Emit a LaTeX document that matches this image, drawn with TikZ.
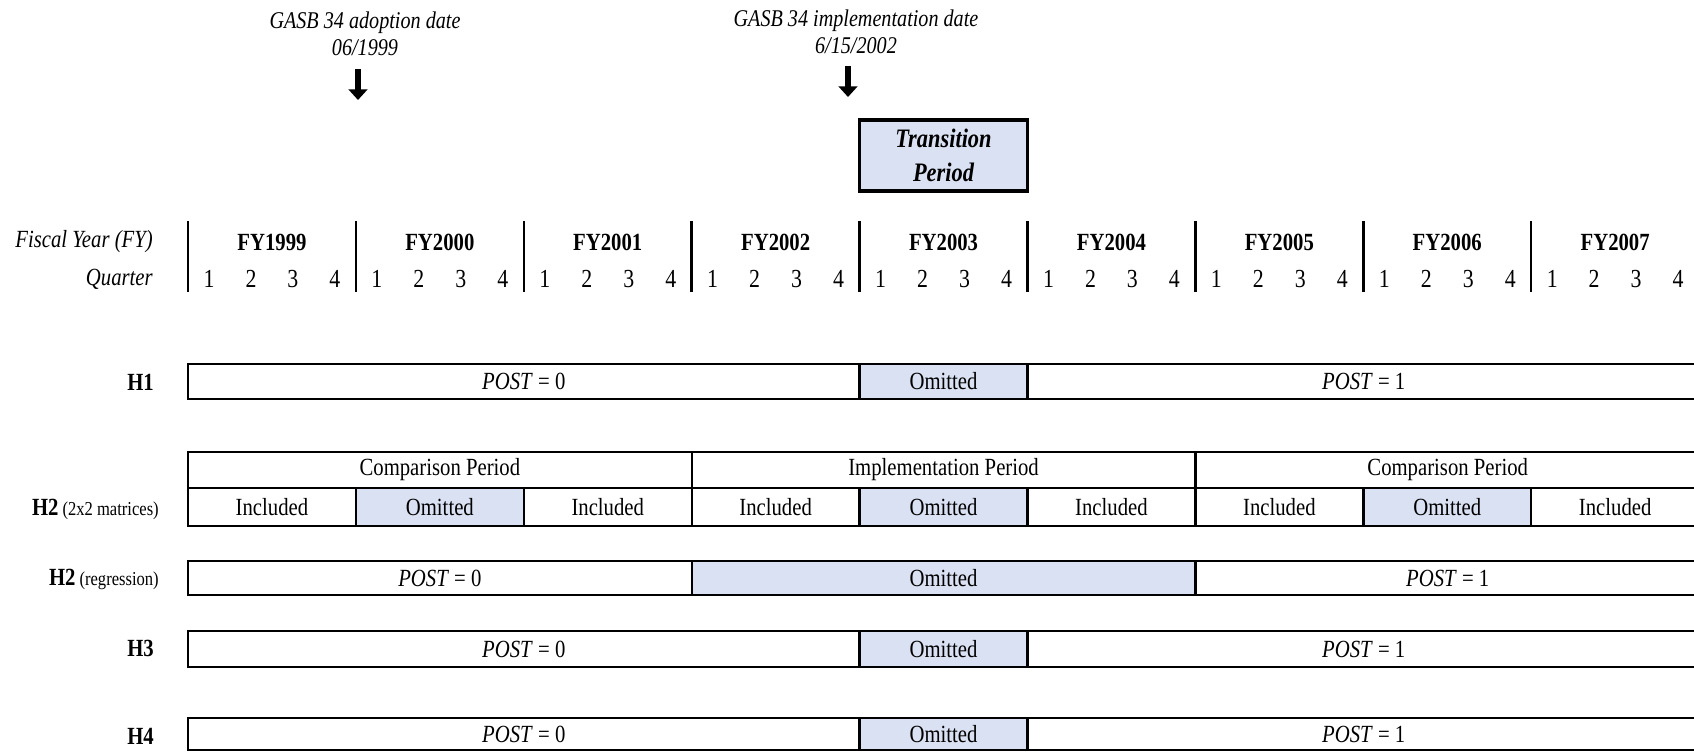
\documentclass[tikz,border=0pt]{standalone}
\usepackage{fontspec}
\setmainfont{Liberation Serif}[FakeStretch=0.84]
\usetikzlibrary{arrows.meta}
\definecolor{omit}{RGB}{217,225,242}
\newcommand\cellnode[7]{%
  \node[cellbox,#2,minimum width={(#4-#3)*0.75pt},minimum height={(#6-#5)*0.75pt}] (#1) at ({(#3+#4)/2},{(#5+#6)/2}) {#7};}
\newcommand\sublabfont{\fontsize{14.8pt}{16pt}\selectfont\mdseries}
\newcommand\mainfs{\fontsize{18.5pt}{21pt}\selectfont}
\tikzset{
  cellbox/.style={draw,line width=1.8pt,inner sep=0pt,rectangle,font=\mainfs},
  shaded/.style={fill=omit},
  rowlab/.style={anchor=east,inner sep=0pt,font=\mainfs\bfseries},
  hdrlab/.style={anchor=east,inner sep=0pt,font=\mainfs\itshape},
  fylab/.style={inner sep=0pt,font=\mainfs\bfseries},
  qlab/.style={inner sep=0pt,font=\fontsize{19.5pt}{21pt}\selectfont},
  sepline/.style={line width=1.9pt},
  datelab/.style={align=center,inner sep=0pt,font=\fontsize{18pt}{20pt}\selectfont\itshape},
  datearrow/.style={line width=4.5pt,-{Triangle[width=14pt,length=8pt]}},
  transbox/.style={draw,line width=2.5pt,fill=omit,align=center,inner sep=0pt,
    font=\fontsize{20pt}{25pt}\selectfont\bfseries\itshape},
}
\begin{document}
\begin{tikzpicture}[x=0.75pt,y=-0.75pt]
\useasboundingbox (0,0) rectangle (1694,751);
\clip (0,0) rectangle (1694,751);
% date labels and arrows
\node[datelab] (adopt) at (365,34) {GASB 34 adoption date\\06/1999};
\node[datelab] (impl) at (856,32) {GASB 34 implementation date\\6/15/2002};
\coordinate (adoptA) at (358,69);
\coordinate (adoptB) at (358,100);
\coordinate (implA) at (848,66);
\coordinate (implB) at (848,97);
\draw[datearrow] (adoptA) -- (adoptB);
\draw[datearrow] (implA) -- (implB);
% transition box
\node[transbox,minimum width={167.9*0.75pt},minimum height={71*0.75pt}] (trans) at (943.5,155.5) {Transition\\Period};
% header
\node[hdrlab] (fyhdr) at (153,242) {Fiscal Year (FY)};
\node[hdrlab] (qhdr) at (153,279) {Quarter};
\foreach \k/\yr in {0/1999,1/2000,2/2001,3/2002,4/2003,5/2004,6/2005,7/2006,8/2007}{
  \draw[sepline] ({188+167.9*\k},221) -- ({188+167.9*\k},292);
  \node[fylab] (fy\yr) at ({188+167.9*\k+83.95},242) {FY\yr};
  \foreach \q in {1,2,3,4}{
    \node[qlab] (q\yr-\q) at ({188+167.9*\k+(\q-0.5)*41.975},279) {\q};
  }
}
% row labels
\node[rowlab] (lh1) at (154,382) {H1};
\node[rowlab] (lh2a) at (159,509) {H2\hspace{3pt}{\sublabfont (2x2 matrices)}};
\node[rowlab] (lh2r) at (159,579) {H2\hspace{3pt}{\sublabfont (regression)}};
\node[rowlab] (lh3) at (154,648) {H3};
\node[rowlab] (lh4) at (154,736) {H4};
% H1
\cellnode{h1a}{}{188}{859.6}{364}{399}{\textit{POST} = 0}
\cellnode{h1b}{shaded}{859.6}{1027.5}{364}{399}{Omitted}
\cellnode{h1c}{}{1027.5}{1700}{364}{399}{\textit{POST} = 1}
% H2 matrices top
\cellnode{h2t1}{}{188}{691.7}{452}{488}{Comparison Period}
\cellnode{h2t2}{}{691.7}{1195.4}{452}{488}{Implementation Period}
\cellnode{h2t3}{}{1195.4}{1700}{452}{488}{Comparison Period}
% H2 matrices bottom
\cellnode{h2b1}{}{188}{355.9}{488}{526}{Included}
\cellnode{h2b2}{shaded}{355.9}{523.8}{488}{526}{Omitted}
\cellnode{h2b3}{}{523.8}{691.7}{488}{526}{Included}
\cellnode{h2b4}{}{691.7}{859.6}{488}{526}{Included}
\cellnode{h2b5}{shaded}{859.6}{1027.5}{488}{526}{Omitted}
\cellnode{h2b6}{}{1027.5}{1195.4}{488}{526}{Included}
\cellnode{h2b7}{}{1195.4}{1363.3}{488}{526}{Included}
\cellnode{h2b8}{shaded}{1363.3}{1531.2}{488}{526}{Omitted}
\cellnode{h2b9}{}{1531.2}{1699.1}{488}{526}{Included}
% H2 regression
\cellnode{h2ra}{}{188}{691.7}{561}{595}{\textit{POST} = 0}
\cellnode{h2rb}{shaded}{691.7}{1195.4}{561}{595}{Omitted}
\cellnode{h2rc}{}{1195.4}{1700}{561}{595}{\textit{POST} = 1}
% H3
\cellnode{h3a}{}{188}{859.6}{631}{667}{\textit{POST} = 0}
\cellnode{h3b}{shaded}{859.6}{1027.5}{631}{667}{Omitted}
\cellnode{h3c}{}{1027.5}{1700}{631}{667}{\textit{POST} = 1}
% H4
\cellnode{h4a}{}{188}{859.6}{718}{750}{\textit{POST} = 0}
\cellnode{h4b}{shaded}{859.6}{1027.5}{718}{750}{Omitted}
\cellnode{h4c}{}{1027.5}{1700}{718}{750}{\textit{POST} = 1}
\end{tikzpicture}
\end{document}
